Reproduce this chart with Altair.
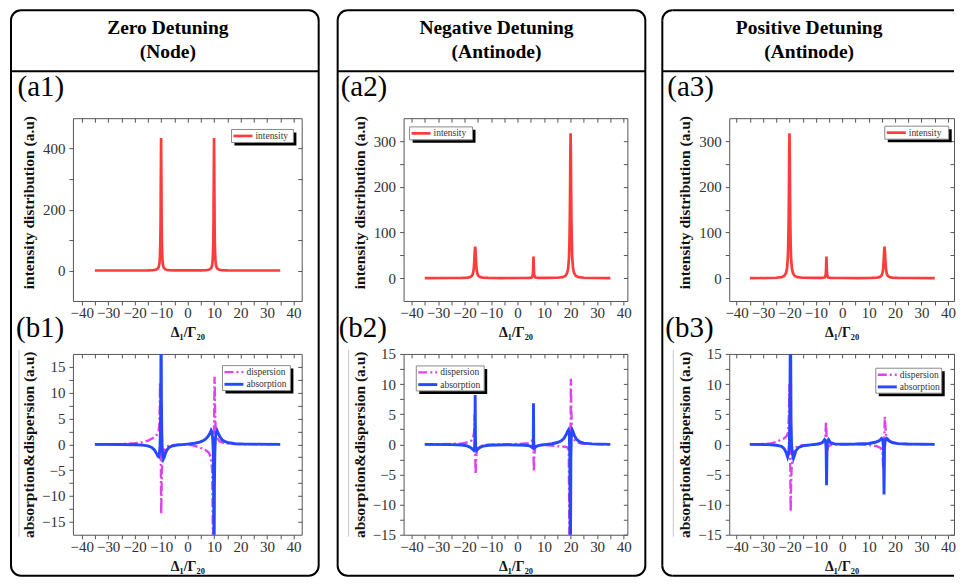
import math
import altair as alt
import pandas as pd

FONT = "Liberation Serif"
RED = "#ff3b3b"
MAG = "#dd44ee"
BLUE = "#2648ff"

# ---------------- data ----------------
col_titles = [["Zero Detuning", "(Node)"],
              ["Negative Detuning", "(Antinode)"],
              ["Positive Detuning", "(Antinode)"]]
a_labels = ["(a1)", "(a2)", "(a3)"]
b_labels = ["(b1)", "(b2)", "(b3)"]
x_title = "Δ₁/Γ₂₀"
a_ytitle = "intensity distribution (a.u)"
b_ytitle = "absorption&dispersion (a.u)"
X_TICKS = [-40, -35, -30, -25, -20, -15, -10, -5, 0, 5, 10, 15, 20, 25, 30, 35, 40]
A1_TICKS = [0, 100, 200, 300, 400]
A23_TICKS = [0, 50, 100, 150, 200, 250, 300]
B_TICKS = [-15, -12.5, -10, -7.5, -5, -2.5, 0, 2.5, 5, 7.5, 10, 12.5, 15]

int_a1 = [(-35, 0.05), (-25, 0.1), (-18, 0.15), (-15, 0.4), (-13, 1.1), (-12, 2.4), (-11.4, 4.9),
          (-11, 9.6), (-10.8, 14.8), (-10.6, 25.6), (-10.45, 43.5), (-10.3, 87), (-10.2, 157),
          (-10.1, 301), (-10, 435), (-9.9, 301), (-9.8, 157), (-9.7, 87), (-9.55, 43.5), (-9.4, 25.6),
          (-9.2, 14.8), (-9, 9.6), (-8.6, 4.9), (-8, 2.4), (-7, 1.1), (-5, 0.5), (-2, 0.3), (0, 0.3),
          (2, 0.3), (5, 0.5), (7, 1.1), (8, 2.4), (8.6, 4.9), (9, 9.6), (9.2, 14.8), (9.4, 25.6),
          (9.55, 43.5), (9.7, 87), (9.8, 157), (9.9, 301), (10, 435), (10.1, 301), (10.2, 157),
          (10.3, 87), (10.45, 43.5), (10.6, 25.6), (10.8, 14.8), (11, 9.6), (11.4, 4.9), (12, 2.4),
          (13, 1.1), (15, 0.4), (18, 0.15), (25, 0.1), (35, 0.05)]

int_a2 = [(-35, 0.1), (-25, 0.3), (-21, 0.4), (-19, 0.9), (-18, 2.1), (-17.3, 4.6), (-16.9, 8.6),
          (-16.6, 17), (-16.45, 26), (-16.3, 40), (-16.15, 58), (-16, 69), (-15.85, 58), (-15.7, 40),
          (-15.55, 26), (-15.4, 17), (-15.1, 8.6), (-14.7, 4.6), (-14, 2.1), (-13, 0.9), (-11, 0.4),
          (-6, 0.2), (0, 0.3), (3, 0.3), (4.5, 0.4), (5.3, 1.3), (5.6, 3.9), (5.75, 8.5), (5.85, 18),
          (5.92, 32.5), (6, 47), (6.08, 32.5), (6.15, 18), (6.25, 8.5), (6.4, 3.9), (6.7, 1.3),
          (8, 0.5), (11, 0.4), (15, 0.8), (17, 2.2), (18, 4.9), (18.7, 11.4), (19.1, 22), (19.4, 46),
          (19.55, 75), (19.7, 130), (19.8, 193), (19.9, 273), (20, 317), (20.1, 273), (20.2, 193),
          (20.3, 130), (20.45, 75), (20.6, 46), (20.9, 22), (21.3, 11.4), (22, 4.9), (23, 2.2),
          (25, 0.8), (28, 0.3), (35, 0.1)]

int_a3 = [(-35, 0.1), (-28, 0.3), (-25, 0.8), (-23, 2.2), (-22, 4.9), (-21.3, 11.4), (-20.9, 22),
          (-20.6, 46), (-20.45, 75), (-20.3, 130), (-20.2, 193), (-20.1, 273), (-20, 317),
          (-19.9, 273), (-19.8, 193), (-19.7, 130), (-19.55, 75), (-19.4, 46), (-19.1, 22),
          (-18.7, 11.4), (-18, 4.9), (-17, 2.2), (-15, 0.8), (-11, 0.4), (-8, 0.5), (-6.7, 1.3),
          (-6.4, 3.9), (-6.25, 8.5), (-6.15, 18), (-6.08, 32.5), (-6, 47), (-5.92, 32.5), (-5.85, 18),
          (-5.75, 8.5), (-5.6, 3.9), (-5.3, 1.3), (-4.5, 0.4), (-3, 0.3), (0, 0.3), (6, 0.2),
          (11, 0.4), (13, 0.9), (14, 2.1), (14.7, 4.6), (15.1, 8.6), (15.4, 17), (15.55, 26),
          (15.7, 40), (15.85, 58), (16, 69), (16.15, 58), (16.3, 40), (16.45, 26), (16.6, 17),
          (16.9, 8.6), (17.3, 4.6), (18, 2.1), (19, 0.9), (21, 0.4), (25, 0.3), (35, 0.1)]

abs_b1 = [(-35, 0), (-25, -0.03), (-20, -0.08), (-17, -0.15), (-15, -0.3), (-13.5, -0.6), (-12.5, -1.1),
          (-11.8, -1.7), (-11.2, -2.3), (-10.9, -2.4), (-10.6, -1.6), (-10.4, -0.3), (-10.25, 2.5),
          (-10.12, 9), (-10.05, 19), (-9.95, 19), (-9.88, 9), (-9.75, 2.5), (-9.6, -0.3), (-9.4, -1.8),
          (-9.1, -2.8), (-8.8, -2.5), (-8.4, -1.8), (-7.8, -1.1), (-7, -0.6), (-6, -0.35), (-4, -0.15),
          (-2, -0.05), (0, 0.05), (2, 0.15), (4, 0.35), (5.5, 0.6), (6.8, 1.0), (7.8, 1.6), (8.5, 2.2),
          (8.9, 2.7), (9.2, 2.4), (9.5, 1.0), (9.7, -1.5), (9.85, -8), (9.95, -19), (10.05, -19),
          (10.15, -8), (10.3, -1.5), (10.5, 1.0), (10.8, 2.4), (11.1, 2.7), (11.5, 2.2), (12.2, 1.5),
          (13, 0.9), (14, 0.55), (15.5, 0.3), (18, 0.12), (22, 0.05), (35, 0)]

disp_b1 = [(-35, 0), (-25, 0.05), (-20, 0.2), (-17, 0.4), (-15, 0.7), (-13.5, 1.1), (-12.3, 1.5),
           (-11.5, 1.9), (-11, 2.3), (-10.7, 3.5), (-10.5, 7), (-10.4, 12), (-10.3, 10), (-10.15, 2),
           (-10.05, -6), (-9.95, -13.5), (-9.85, -10), (-9.7, -5), (-9.5, -3), (-9.2, -2), (-8.8, -1.2),
           (-8, -0.5), (-7, -0.2), (-5, -0.1), (-2, 0), (0, -0.05), (2, -0.2), (4, -0.5), (5.5, -0.8),
           (7, -1.2), (8, -1.6), (8.8, -2.5), (9.3, -5), (9.6, -19), (9.75, -19), (9.9, -5), (10.05, 6),
           (10.2, 13.1), (10.35, 8), (10.5, 4), (10.8, 2.2), (11.3, 1.2), (12, 0.6), (13.5, 0.3),
           (16, 0.1), (20, 0.05), (35, 0)]

abs_b2 = [(-35, 0), (-25, -0.05), (-21, -0.12), (-19, -0.25), (-17.8, -0.5), (-17, -0.8), (-16.5, -1.0),
          (-16.25, -0.7), (-16.1, 1.0), (-16.0, 8.2), (-15.9, 1.0), (-15.75, -0.7), (-15.5, -1.0),
          (-15, -0.8), (-14.2, -0.5), (-13, -0.3), (-11, -0.15), (-8, -0.1), (-4, -0.08), (0, -0.1),
          (3, -0.15), (4.5, -0.25), (5.3, -0.45), (5.75, -0.6), (5.92, 0.5), (6.0, 6.8), (6.08, 0.5),
          (6.25, -0.6), (6.7, -0.45), (7.5, -0.25), (9, -0.1), (11, 0), (13, 0.1), (15, 0.3), (16.5, 0.6),
          (17.5, 1.0), (18.3, 1.6), (18.8, 2.1), (19.2, 2.4), (19.5, 1.8), (19.7, -2), (19.85, -17),
          (19.95, -17), (20.1, -2), (20.3, 1.8), (20.6, 2.4), (21, 2.0), (21.5, 1.4), (22.3, 0.8),
          (23.5, 0.4), (25, 0.2), (28, 0.08), (35, 0)]

disp_b2 = [(-35, 0), (-25, 0.05), (-21, 0.15), (-19, 0.3), (-17.5, 0.6), (-16.8, 1.0), (-16.4, 2),
           (-16.2, 5), (-16.05, 3), (-15.95, -2), (-15.85, -5), (-15.7, -3), (-15.5, -1.5), (-15.2, -0.8),
           (-14.5, -0.4), (-13, -0.15), (-10, -0.05), (-5, 0), (0, 0.05), (4, 0.2), (5.3, 0.5),
           (5.8, 1.0), (5.95, 0.3), (6.05, -2.5), (6.15, -4.6), (6.3, -2), (6.6, -0.6), (7.5, -0.2),
           (10, -0.1), (14, -0.25), (16, -0.35), (18, -0.4), (18.8, -0.5), (19.3, -1), (19.6, -17),
           (19.75, -17), (19.95, -3), (20.1, 10.9), (20.25, 6), (20.5, 2.5), (21, 1.0), (22, 0.4),
           (24, 0.15), (28, 0.05), (35, 0)]

abs_b3 = [(-35, 0), (-28, -0.05), (-25, -0.15), (-23, -0.35), (-22, -0.7), (-21.2, -1.4), (-20.7, -2.1),
          (-20.3, -1.4), (-20.05, 0), (-19.85, 4), (-19.7, 17), (-19.55, 17), (-19.4, 4), (-19.2, 0),
          (-18.9, -1.5), (-18.5, -2.3), (-18.1, -1.8), (-17.5, -1.0), (-16.5, -0.5), (-15, -0.25),
          (-12, -0.08), (-9, 0.05), (-7.5, 0.3), (-6.7, 0.8), (-6.3, 0.6), (-6.1, -1), (-5.95, -6.8),
          (-5.8, -1), (-5.6, 0.6), (-5.2, 0.8), (-4.5, 0.3), (-3, 0.08), (0, 0.02), (5, 0.05), (10, 0.15),
          (12.5, 0.35), (14, 0.6), (14.9, 1.0), (15.3, 0.8), (15.6, -0.5), (15.8, -8.3), (16.0, -0.5),
          (16.3, 0.8), (16.8, 1.0), (17.6, 0.6), (19, 0.3), (21, 0.12), (25, 0.05), (35, 0)]

disp_b3 = [(-35, 0), (-30, 0.05), (-27, 0.15), (-25, 0.4), (-23.5, 0.7), (-22, 1.0), (-21, 1.4),
           (-20.5, 2), (-20.2, 5), (-20.0, 10), (-19.85, 4), (-19.7, -3), (-19.55, -11.2), (-19.4, -7),
           (-19.2, -4), (-18.8, -2.3), (-18.3, -1.2), (-17.5, -0.5), (-16, -0.2), (-13, -0.1), (-10, 0),
           (-8, 0.2), (-7, 0.5), (-6.4, 1.2), (-6.15, 3.8), (-6.0, 2), (-5.85, -2), (-5.7, -1),
           (-5.4, -0.4), (-4.5, -0.1), (-2, 0), (5, 0), (10, -0.1), (13, -0.3), (14.5, -0.6), (15.2, -1.2),
           (15.5, -4), (15.7, -2), (15.9, 1), (16.1, 4.6), (16.3, 3), (16.6, 1.6), (17.2, 1.0), (18, 0.5),
           (20, 0.15), (24, 0.05), (35, 0)]

# ---------------- helpers ----------------
ONE = pd.DataFrame({"k": [0]})
DISP_DASH = [9, 3, 2, 3]


def rect(x, x2, y, y2, **kw):
    return alt.Chart(ONE).mark_rect(**kw).encode(
        x=alt.value(x), x2=alt.value(x2), y=alt.value(y), y2=alt.value(y2))


def hrule(x, x2, y, **kw):
    return alt.Chart(ONE).mark_rule(**kw).encode(x=alt.value(x), x2=alt.value(x2), y=alt.value(y))


def vrule(x, y, y2, **kw):
    return alt.Chart(ONE).mark_rule(**kw).encode(x=alt.value(x), y=alt.value(y), y2=alt.value(y2))


def label(text, x, y, **kw):
    return alt.Chart(ONE).mark_text(text=text, font=FONT, **kw).encode(x=alt.value(x), y=alt.value(y))


def corner(cx, cy, t1, t2, r=10):
    return alt.Chart(ONE).mark_arc(radius=r + 1, radius2=r - 1, theta=t1, theta2=t2,
                                   color="black").encode(x=alt.value(cx), y=alt.value(cy))


def full_box(bl, br, top, bottom):
    return [rect(bl, br, top, bottom, filled=False, stroke="black", strokeWidth=2, cornerRadius=10)]


def open_box(bl, br, top, bottom, r=10):
    # box whose right side lies beyond the picture edge
    return [
        vrule(bl, top + r, bottom - r, color="black", strokeWidth=2),
        hrule(bl + r, br, top, color="black", strokeWidth=2),
        hrule(bl + r, br, bottom, color="black", strokeWidth=2),
        corner(bl + r, top + r, 1.5 * math.pi, 2 * math.pi),
        corner(bl + r, bottom - r, math.pi, 1.5 * math.pi),
    ]


def legend(x0, y0, w, entries):
    h = 13 if len(entries) == 1 else 25
    out = [rect(x0 + 3, x0 + w + 3, y0 + 3, y0 + h + 3, fill="black"),
           rect(x0, x0 + w, y0, y0 + h, fill="white", stroke="#8a8a8a", strokeWidth=1)]
    for i, (name, color, dash, sw) in enumerate(entries):
        yc = y0 + 6.5 + 12.2 * i
        kw = dict(color=color, strokeWidth=sw)
        if dash:
            kw["strokeDash"] = dash
        out.append(hrule(x0 + 2, x0 + 21, yc, **kw))
        out.append(label(name, x0 + 24, yc, align="left", baseline="middle", fontSize=9.5, color="#333333"))
    return out


def panel(series, xdom, ydom, yvals, ymajor, ytitle, ytitle_y, xtitle_y, w, h, before, after):
    xs = alt.Scale(domain=xdom, nice=False, zero=False)
    ys = alt.Scale(domain=ydom, nice=False, zero=False)
    layers = list(before)
    first_df = None
    for i, (pts, color, dash, sw) in enumerate(series):
        df = pd.DataFrame(pts, columns=["x", "y"])
        if first_df is None:
            first_df = df
        kw = dict(color=color, strokeWidth=sw, clip=True)
        if dash:
            kw["strokeDash"] = dash
        if i == 0:
            xa = alt.Axis(values=X_TICKS, labelExpr="datum.value % 10 === 0 ? datum.label : ''",
                          title=x_title, titleY=xtitle_y, titleBaseline="alphabetic", titleFontSize=14,
                          tickSize=4)
            ya = alt.Axis(values=yvals, labelExpr=f"datum.value % {ymajor} === 0 ? datum.label : ''",
                          title=ytitle, titleX=-44.5, titleY=ytitle_y, titleBaseline="middle",
                          titleFontSize=15.5, tickSize=4)
        else:
            xa = None
            ya = None
        layers.append(alt.Chart(df).mark_line(**kw).encode(
            x=alt.X("x:Q", scale=xs, axis=xa), y=alt.Y("y:Q", scale=ys, axis=ya)))
    # inward ticks on top and right
    layers.append(alt.Chart(first_df).mark_point(opacity=0, size=1).encode(
        x=alt.X("x:Q", scale=xs, axis=alt.Axis(orient="top", values=X_TICKS, labels=False, title=None,
                                               offset=-4, tickSize=4)),
        y=alt.Y("y:Q", scale=ys, axis=alt.Axis(orient="right", values=yvals, labels=False, title=None,
                                               offset=-4, tickSize=4))))
    layers += after
    return alt.layer(*layers).resolve_axis(x="independent", y="independent").properties(width=w, height=h)


# ---------------- layout per column ----------------
A_H = 183
B_H = 181
GAP = 53
BOX_TOP = -108
BOX_BOTTOM = 458

cols = [
    dict(w=229, xdom=[-43.3, 43.1], box=(-62, 246), open=False, tc=95, ax=-55.5, bx=-57, faint=-54,
         a_series=[(int_a1, RED, None, 2.7)], adom=[-100, 500], aticks=A1_TICKS, amaj=200,
         aleg=(158.7, 11.3, 62),
         b_series=[(disp_b1, MAG, DISP_DASH, 2.4), (abs_b1, BLUE, None, 2.9)], bdom=[-17.5, 17.5],
         bleg=(149.7, 11.7, 68)),
    dict(w=224, xdom=[-43, 41.4], box=(-66, 242), open=False, tc=93, ax=-63, bx=-65, faint=-55,
         a_series=[(int_a2, RED, None, 2.7)], adom=[-50, 350], aticks=A23_TICKS, amaj=100,
         aleg=(6, 8.7, 63),
         b_series=[(disp_b2, MAG, DISP_DASH, 2.4), (abs_b2, BLUE, None, 2.9)], bdom=[-15, 15],
         bleg=(12.7, 12, 68)),
    dict(w=225, xdom=[-42.8, 42.3], box=(-67, 225), open=True, tc=80, ax=-62, bx=-64, faint=-56,
         a_series=[(int_a3, RED, None, 2.7)], adom=[-50, 350], aticks=A23_TICKS, amaj=100,
         aleg=(155.7, 8, 64),
         b_series=[(disp_b3, MAG, DISP_DASH, 2.4), (abs_b3, BLUE, None, 2.9)], bdom=[-15, 15],
         bleg=(146.7, 14.3, 66)),
]

a_charts = []
b_charts = []
for i, c in enumerate(cols):
    bl, br = c["box"]
    box = open_box(bl, br, BOX_TOP, BOX_BOTTOM) if c["open"] else full_box(bl, br, BOX_TOP, BOX_BOTTOM)
    before_a = box + [
        hrule(bl, br, -47, color="black", strokeWidth=2),
        label(col_titles[i][0], c["tc"], -84, align="center", baseline="alphabetic",
              fontSize=19.5, fontWeight="bold", color="black"),
        label(col_titles[i][1], c["tc"], -60, align="center", baseline="alphabetic",
              fontSize=19.5, fontWeight="bold", color="black"),
        label(a_labels[i], c["ax"], -22, align="left", baseline="alphabetic", fontSize=29, color="black"),
    ]
    lx, ly, lw = c["aleg"]
    after_a = legend(lx, ly, lw, [("intensity", RED, None, 2.7)])
    a_charts.append(panel(c["a_series"], c["xdom"], c["adom"], c["aticks"], c["amaj"], a_ytitle, 84, 35.5,
                          c["w"], A_H, before_a, after_a))

    before_b = [
        vrule(c["faint"], -4, B_H + 2, color="#c8c8c8", strokeWidth=1),
        label(b_labels[i], c["bx"], -17, align="left", baseline="alphabetic", fontSize=29, color="black"),
    ]
    lx, ly, lw = c["bleg"]
    after_b = legend(lx, ly, lw, [("dispersion", MAG, DISP_DASH, 2.4), ("absorption", BLUE, None, 2.9)])
    b_charts.append(panel(c["b_series"], c["xdom"], c["bdom"], B_TICKS, 5, b_ytitle, B_H / 2, 36,
                          c["w"], B_H, before_b, after_b))

chart = alt.concat(
    *(a_charts + b_charts), columns=3, spacing={"row": GAP, "column": 102}, bounds="flush"
).properties(
    padding={"left": 1, "top": 0, "right": 0, "bottom": 0}
).configure_view(
    stroke="#555555", strokeWidth=1
).configure_axis(
    labelFont=FONT, labelFontSize=15, labelColor="#333333", tickColor="#555555", tickWidth=1,
    domain=False, grid=False, labelOverlap=False, labelFlush=False,
    titleFont=FONT, titleFontWeight="bold", titleColor="#111111"
).configure_axisX(labelPadding=1).configure_axisY(labelPadding=4)

chart.save("out.html", embed_options={"renderer": "svg", "actions": False})
